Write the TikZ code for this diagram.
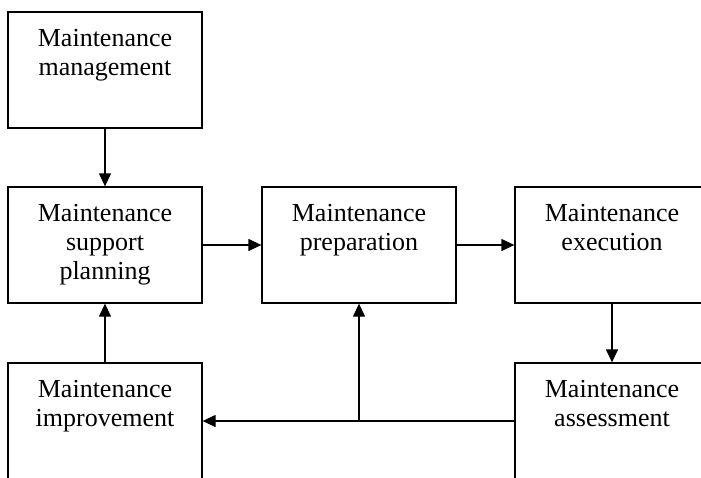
\documentclass[tikz,border=0pt]{standalone}
\usepackage{fontspec}
\setmainfont{Liberation Serif}
\usetikzlibrary{arrows.meta}
\tikzset{
  stagebox/.style={draw, line width=1.3pt, minimum width=194pt, minimum height=116pt, inner sep=0pt},
  stagetext/.style={anchor=north, yshift=-14pt, align=center},
  flow/.style={line width=1.3pt, -{Triangle[length=13pt,width=12pt]}},
}
\begin{document}
\begin{tikzpicture}[x=1pt,y=-1pt,font=\fontsize{26}{29}\selectfont]
    \useasboundingbox (0,0) rectangle (701,477);
    \clip (0,0) rectangle (701,477);
    \node[stagebox, label={[stagetext]north:Maintenance\\management}] (mgmt) at (105,70) {};
    \node[stagebox, label={[stagetext]north:Maintenance\\support\\planning}] (support) at (105,245) {};
    \node[stagebox, label={[stagetext]north:Maintenance\\preparation}] (prep) at (359,245) {};
    \node[stagebox, label={[stagetext]north:Maintenance\\execution}] (exec) at (612,245) {};
    \node[stagebox, label={[stagetext]north:Maintenance\\improvement}] (improve) at (105,421) {};
    \node[stagebox, label={[stagetext]north:Maintenance\\assessment}] (assess) at (612,421) {};
    \coordinate (split) at (prep.south |- assess.west);
    \draw[flow] (mgmt) -- (support);
    \draw[flow] (support) -- (prep);
    \draw[flow] (prep) -- (exec);
    \draw[flow] (exec) -- (assess);
    \draw[flow] (improve) -- (support);
    \draw[flow] (assess) -- (improve);
    \draw[flow] (split) -- (prep);
\end{tikzpicture}
\end{document}
